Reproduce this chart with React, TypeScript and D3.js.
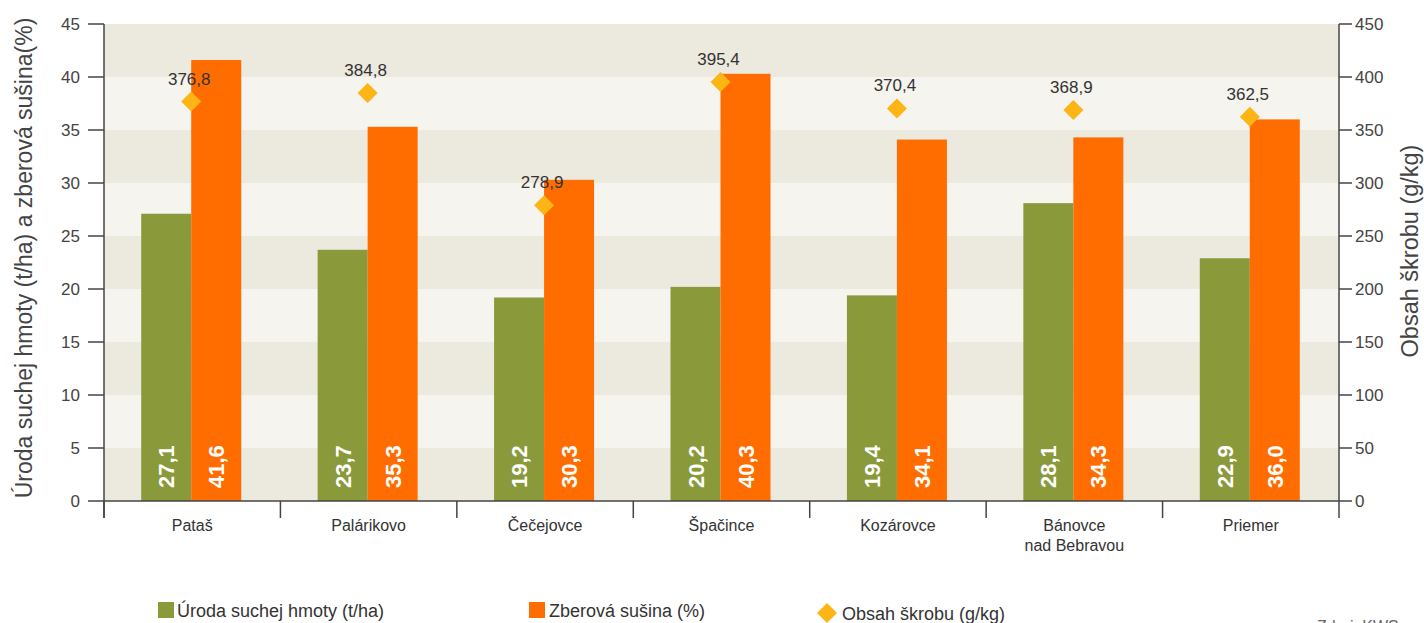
import React from "react";
import * as d3 from "d3";

const categories = ["Pataš", "Palárikovo", "Čečejovce", "Špačince", "Kozárovce", "Bánovce|nad Bebravou", "Priemer"];
const yieldValues = [27.1, 23.7, 19.2, 20.2, 19.4, 28.1, 22.9];
const dryMatter = [41.6, 35.3, 30.3, 40.3, 34.1, 34.3, 36.0];
const starch = [376.8, 384.8, 278.9, 395.4, 370.4, 368.9, 362.5];
const leftTicks = [0, 5, 10, 15, 20, 25, 30, 35, 40, 45];
const rightTicks = [0, 50, 100, 150, 200, 250, 300, 350, 400, 450];

const W = 1424, H = 623;
const left = 104, right = 1339, top = 24, bottom = 501;
const GREEN = "#8a993a", ORANGE = "#ff6c00", GOLD = "#fdb515";
const AXIS = "#444";
const FONT = "'Liberation Sans', Arial, Helvetica, sans-serif";
const fmt = (v: number) => v.toFixed(1).replace(".", ",");

export default function App() {
  const x = d3.scaleBand<string>().domain(categories).range([left, right]);
  const yL = d3.scaleLinear().domain([0, 45]).range([bottom, top]);
  const yR = d3.scaleLinear().domain([0, 450]).range([bottom, top]);
  const bw = 50;
  const bands = d3.range(0, 45, 5);
  return (
    <svg width={W} height={H} style={{ position: "absolute", left: 0, top: 0, fontFamily: FONT }}>
      {bands.map((b, i) => (
        <rect key={b} x={left} y={yL(b + 5)} width={right - left} height={yL(b) - yL(b + 5)}
          fill={i % 2 === 0 ? "#ece9de" : "#f5f4ee"} />
      ))}
      {categories.map((c, i) => {
        const cx = x(c)! + x.bandwidth() / 2 - 1;
        return (
          <g key={c}>
            <rect x={cx - bw} y={yL(yieldValues[i])} width={bw} height={yL(0) - yL(yieldValues[i])} fill={GREEN} />
            <rect x={cx} y={yL(dryMatter[i])} width={bw} height={yL(0) - yL(dryMatter[i])} fill={ORANGE} />
            <text transform={`translate(${cx - bw / 2 + 8},${bottom - 13}) rotate(-90)`} fill="#fff"
              fontWeight="bold" fontSize={22}>{fmt(yieldValues[i])}</text>
            <text transform={`translate(${cx + bw / 2 + 8},${bottom - 13}) rotate(-90)`} fill="#fff"
              fontWeight="bold" fontSize={22}>{fmt(dryMatter[i])}</text>
          </g>
        );
      })}
      {categories.map((c, i) => {
        const cx = x(c)! + x.bandwidth() / 2 - 1;
        const cy = yR(starch[i]);
        return (
          <g key={"s" + c}>
            <path d={`M${cx},${cy - 10}L${cx + 10},${cy}L${cx},${cy + 10}L${cx - 10},${cy}Z`} fill={GOLD} />
            <text x={cx - 2} y={cy - 17} textAnchor="middle" fontSize={17} fill="#333">{fmt(starch[i])}</text>
          </g>
        );
      })}
      <line x1={left} x2={left} y1={top} y2={518} stroke={AXIS} strokeWidth={1.5} />
      <line x1={right} x2={right} y1={top} y2={518} stroke={AXIS} strokeWidth={1.5} />
      <line x1={left} x2={right} y1={bottom} y2={bottom} stroke={AXIS} strokeWidth={1.5} />
      {leftTicks.map((t) => (
        <g key={"l" + t}>
          <line x1={88} x2={left} y1={yL(t)} y2={yL(t)} stroke={AXIS} strokeWidth={1.5} />
          <text x={80} y={yL(t)} dy="0.35em" textAnchor="end" fontSize={17} fill={AXIS}>{t}</text>
        </g>
      ))}
      {rightTicks.map((t) => (
        <g key={"r" + t}>
          <line x1={right} x2={1352} y1={yR(t)} y2={yR(t)} stroke={AXIS} strokeWidth={1.5} />
          <text x={1355} y={yR(t)} dy="0.35em" textAnchor="start" fontSize={17} fill={AXIS}>{t}</text>
        </g>
      ))}
      {categories.map((c) => (
        <line key={"t" + c} x1={x(c)!} x2={x(c)!} y1={bottom} y2={518} stroke={AXIS} strokeWidth={1.5} />
      ))}
      {categories.map((c) => {
        const lines = c.split("|");
        return (
          <text key={"c" + c} x={x(c)! + x.bandwidth() / 2} y={531} textAnchor="middle" fontSize={16} fill="#333">
            {lines.map((ln, j) => (
              <tspan key={j} x={x(c)! + x.bandwidth() / 2} dy={j === 0 ? 0 : 20}>{ln}</tspan>
            ))}
          </text>
        );
      })}
      <text transform={`translate(32,258) rotate(-90)`} textAnchor="middle" fontSize={23} fill={AXIS}>
        Úroda suchej hmoty (t/ha) a zberová sušina(%)
      </text>
      <text transform={`translate(1418,251) rotate(-90)`} textAnchor="middle" fontSize={23.5} fill={AXIS}>
        Obsah škrobu (g/kg)
      </text>
      <rect x={158} y={602} width={16} height={16} fill={GREEN} />
      <text x={177} y={617} fontSize={18} fill="#333">Úroda suchej hmoty (t/ha)</text>
      <rect x={529} y={602} width={16} height={16} fill={ORANGE} />
      <text x={549} y={617} fontSize={18} fill="#333">Zberová sušina (%)</text>
      <path d="M827,603L837,613L827,623L817,613Z" fill={GOLD} />
      <text x={842} y={620} fontSize={18} fill="#333">Obsah škrobu (g/kg)</text>
      <text x={1317} y={632} fontSize={16} fill="#666">Zdroj: KWS</text>
    </svg>
  );
}
